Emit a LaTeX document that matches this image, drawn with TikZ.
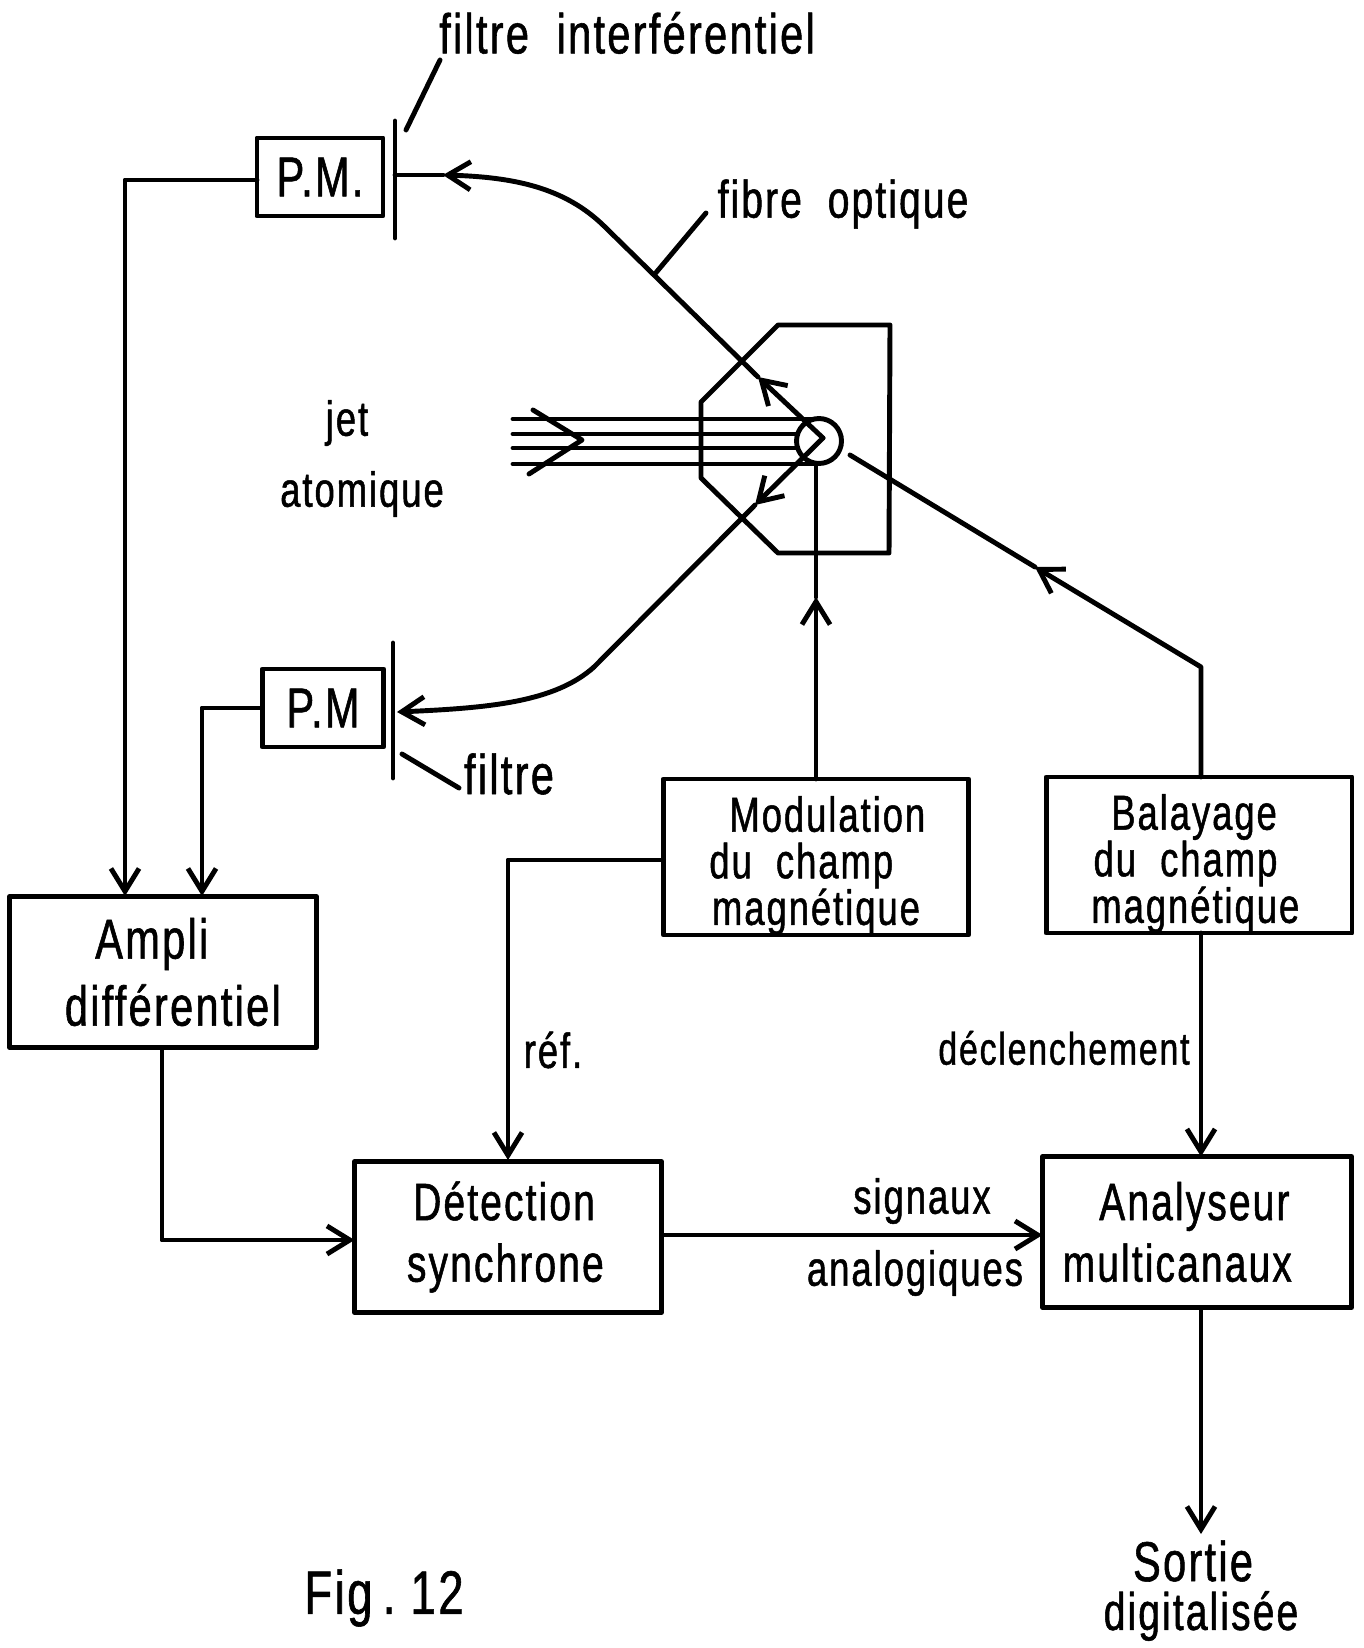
\documentclass[tikz,border=0pt]{standalone}
\usepackage{fontspec}
\setmainfont[FakeStretch=0.74,LetterSpace=4,FakeBold=1]{Liberation Sans}
\usetikzlibrary{calc,positioning,arrows.meta}
\newcommand{\descend}{\rule{0pt}{30pt}}

\begin{document}
\begin{tikzpicture}[x=0.02cm,y=-0.02cm,>={Straight Barb[length=13pt,width=16pt,line width=2.8pt]},
  line width=2.8pt,line join=round,line cap=round,
  blocbox/.style={draw,align=center,inner sep=0pt,outer sep=0pt,minimum width=6cm,minimum height=3.02cm},
  pmbox/.style={draw,inner sep=0pt,outer sep=0pt,minimum height=1.56cm},
  lab/.style={inner sep=0pt,align=center},
  every node/.style={font=\fontsize{28}{26.5}\selectfont},
  mid/.style={font=\fontsize{30}{28}\selectfont},
  big/.style={font=\fontsize{32}{30}\selectfont}]
  \useasboundingbox (0,0) rectangle (1364,1648);

  % blocs
  \node[pmbox,big,minimum width=2.52cm] (pmA) at (320,177) {P.M.};
  \node[pmbox,big,minimum width=2.42cm] (pmB) at (323,708) {P.M};
  \node[blocbox,big,minimum width=6.14cm] (ampli) at (163,972) {\hspace*{-0.4em}Ampli\\[7pt]\hspace*{0.35em}différentiel};
  \node[blocbox,minimum width=6.1cm] (modul) at (816,857) {\descend\hspace*{0.46em}Modulation\\\hspace*{-0.6em}du\ \ champ\\magnétique};
  \node[blocbox,minimum width=6.12cm] (balay) at (1199,855) {\descend\hspace*{-0.2em}Balayage\\\hspace*{-0.55em}du\ \ champ\\\hspace*{-0.15em}magnétique};
  \node[blocbox,mid,minimum width=6.14cm] (detec) at (508,1237) {\hspace*{-0.15em}Détection\\[7pt]\hspace*{-0.1em}synchrone};
  \node[blocbox,mid,minimum width=6.18cm] (analy) at (1197,1232) {\hspace*{-0.1em}Analyseur\\[7pt]\hspace*{-0.75em}multicanaux};

  % filtres
  \coordinate (filtAh) at (395,121);
  \coordinate (filtAb) at (395,238);
  \coordinate (filtBh) at (393,643);
  \coordinate (filtBb) at (393,778);
  \draw (filtAh) -- (filtAb);
  \draw (filtBh) -- (filtBb);

  % enceinte et jet
  \draw (701,402) -- (778,325) -- (890,325) -- (889,553) -- (778,553) -- (701,478) -- cycle;
  \node[draw,circle,minimum size=0.9cm,inner sep=0pt,outer sep=0pt] (bobine) at (819,441) {};
  \foreach \y/\xfin in {419/813,434/795,448/795,464/813}{
    \draw (513,\y) -- (\xfin,\y);
  }
  \draw (533,410) -- (582,440) -- (529,474);

  % fibres
  \coordinate (sommet) at (823,438);
  \coordinate (coudeA) at (604,226);
  \coordinate (coudeB) at (594,667);
  \coordinate (pointeA) at (443,175);
  \coordinate (pointeB) at (397,712);
  \coordinate (flecheA) at (758,377);
  \coordinate (flecheB) at (755,505);
  \draw[->] (sommet) -- (flecheA);
  \draw (flecheA) -- (coudeA);
  \draw[->] (coudeA) .. controls (565,188) and (515,177) .. (pointeA);
  \draw (pointeA) -- (filtAh |- pointeA);
  \draw[->] (sommet) -- (flecheB);
  \draw (flecheB) -- (coudeB);
  \draw[->] (coudeB) .. controls (555,702) and (490,708) .. (pointeB);

  % liaisons
  \coordinate (entreeA) at (125,896);
  \coordinate (entreeB) at (202,896);
  \draw[->] (pmA.west |- 0,180) -| (entreeA);
  \draw[->] (pmB.west) -| (entreeB);
  \coordinate (sortieAmpli) at (162,1048);
  \draw[->] (sortieAmpli) -- (162,1240) -- (detec.west |- 0,1240);
  \coordinate (entreeDetec) at (508,1160);
  \draw[->] (modul.west |- 0,860) -| (entreeDetec);
  \coordinate (flecheMod) at (816,597);
  \draw[->] (modul.north) -- (flecheMod);
  \draw (flecheMod) -- (flecheMod |- bobine.south);
  \coordinate (coudeBal) at (1201,667);
  \coordinate (flecheBal) at (1035,567);
  \coordinate (finBal) at (850,455);
  \draw[->] (balay.north -| coudeBal) -- (coudeBal) -- (flecheBal);
  \draw (flecheBal) -- (finBal);
  \draw[->] (balay.south -| coudeBal) -- (analy.north -| coudeBal);
  \draw[->] (detec.east |- 0,1235) -- (analy.west |- 0,1235);
  \coordinate (sortie) at (1201,1534);
  \draw[->] (analy.south -| sortie) -- (sortie);

  % textes
  \node[lab,big] (tFiltre) at (627,33) {filtre\ \ interférentiel};
  \node[lab,mid] (tFibre) at (843,204) {fibre\ \ optique};
  \node[lab] (tJet) at (347,423) {jet};
  \node[lab] (tAtom) at (362,494) {atomique};
  \node[lab,big] (tFiltreB) at (509,774) {filtre};
  \node[lab] (tRef) at (553,1050) {réf.};
  \node[lab,font=\fontsize{26}{26}\selectfont] (tDecl) at (1064,1048) {déclenchement};
  \node[lab] (tSign) at (922,1201) {signaux};
  \node[lab] (tAnal) at (915,1273) {analogiques};
  \node[lab,big] (tSort) at (1193,1561) {Sortie};
  \node[lab,mid] (tDigi) at (1201,1616) {digitalisée};
  \node[lab,font=\fontsize{35}{32}\selectfont] (tFig) at (384,1598) {Fig\,.\ 12};

  % traits de repere
  \coordinate (repA) at (406,130);
  \coordinate (repB) at (654,275);
  \coordinate (repC) at (402,754);
  \draw (440,60) -- (repA);
  \draw (706,213) -- (repB);
  \draw (repC) -- (459,788);
\end{tikzpicture}
\end{document}
